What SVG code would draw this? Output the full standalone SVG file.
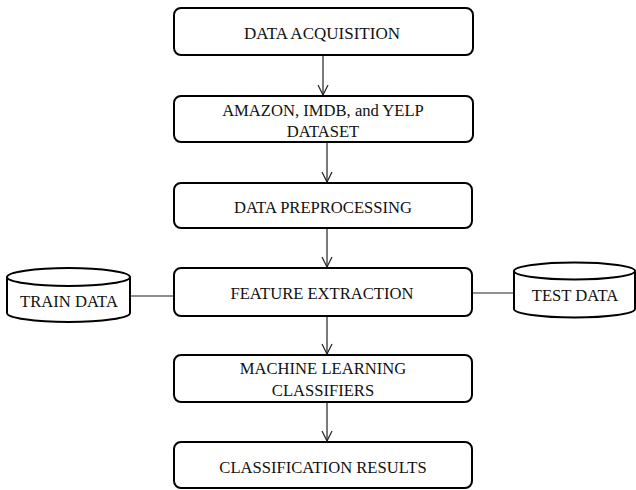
<svg xmlns="http://www.w3.org/2000/svg" width="636" height="490" viewBox="0 0 636 490">
  <style>
    .box { fill: #ffffff; stroke: #000000; stroke-width: 2; }
    .cyl { fill: #ffffff; stroke: #000000; stroke-width: 2; }
    .lbl { font-family: "Liberation Serif", "Times New Roman", serif; font-size: 16.6px; fill: #111111; text-anchor: middle; }
    .link { stroke: #222222; stroke-width: 1.2; fill: none; }
  </style>
  <defs>
    <marker id="arrow" viewBox="0 0 12 12" refX="11" refY="6" markerWidth="12" markerHeight="12" markerUnits="userSpaceOnUse" orient="auto">
      <path d="M1,1 L11,6 L1,11" fill="none" stroke="#222222" stroke-width="1.2"/>
    </marker>
  </defs>

  <g id="connectors">
    <line class="link" x1="323" y1="55" x2="323" y2="95" marker-end="url(#arrow)"/>
    <line class="link" x1="327" y1="142" x2="327" y2="182" marker-end="url(#arrow)"/>
    <line class="link" x1="327" y1="228" x2="327" y2="267" marker-end="url(#arrow)"/>
    <line class="link" x1="327" y1="316" x2="327" y2="354" marker-end="url(#arrow)"/>
    <line class="link" x1="327" y1="402" x2="327" y2="441" marker-end="url(#arrow)"/>
    <line class="link" x1="130" y1="296" x2="174" y2="296"/>
    <line class="link" x1="472" y1="293" x2="514" y2="293"/>
  </g>

  <g id="data-acquisition">
    <rect class="box" x="174" y="8" width="299" height="47" rx="7"/>
    <text class="lbl" x="322" y="39" textLength="156" lengthAdjust="spacingAndGlyphs">DATA ACQUISITION</text>
  </g>

  <g id="dataset">
    <rect class="box" x="174" y="96" width="299" height="46" rx="7"/>
    <text class="lbl" x="323" y="116">AMAZON, IMDB, and YELP</text>
    <text class="lbl" x="323" y="137">DATASET</text>
  </g>

  <g id="preprocessing">
    <rect class="box" x="174" y="183" width="298" height="45" rx="7"/>
    <text class="lbl" x="323" y="213">DATA PREPROCESSING</text>
  </g>

  <g id="feature-extraction">
    <rect class="box" x="174" y="268" width="298" height="48" rx="7"/>
    <text class="lbl" x="322" y="299">FEATURE EXTRACTION</text>
  </g>

  <g id="train-data">
    <path class="cyl" d="M7,277 L7,313 A61.5,9 0 0 0 130,313 L130,277"/>
    <ellipse class="cyl" cx="68.5" cy="277" rx="61.5" ry="9"/>
    <text class="lbl" x="69" y="307">TRAIN DATA</text>
  </g>

  <g id="test-data">
    <path class="cyl" d="M514,271 L514,309 A60.5,8.5 0 0 0 635,309 L635,271"/>
    <ellipse class="cyl" cx="574.5" cy="271" rx="60.5" ry="8.5"/>
    <text class="lbl" x="575" y="301">TEST DATA</text>
  </g>

  <g id="ml-classifiers">
    <rect class="box" x="174" y="355" width="298" height="47" rx="7"/>
    <text class="lbl" x="323" y="374">MACHINE LEARNING</text>
    <text class="lbl" x="323" y="396">CLASSIFIERS</text>
  </g>

  <g id="classification-results">
    <rect class="box" x="174" y="442" width="298" height="46" rx="7"/>
    <text class="lbl" x="323" y="473">CLASSIFICATION RESULTS</text>
  </g>
</svg>
